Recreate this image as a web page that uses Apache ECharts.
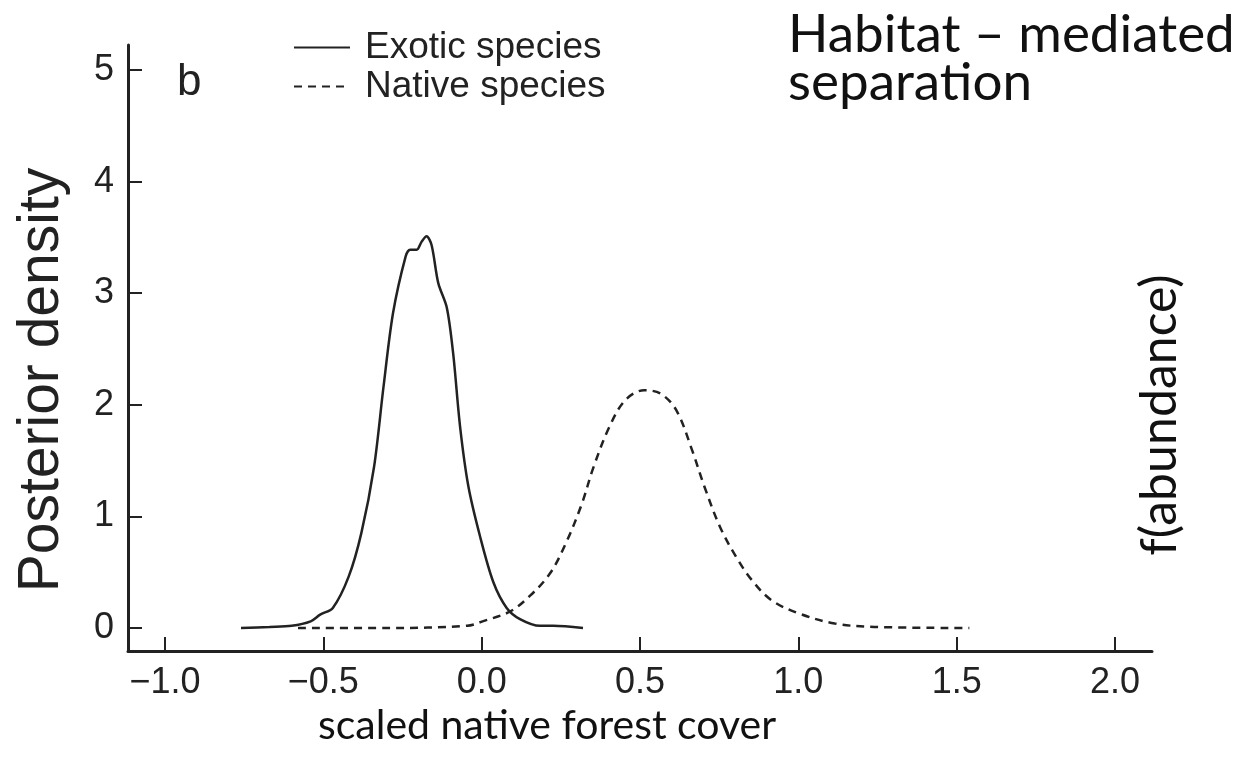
<!DOCTYPE html>
<html lang="en">
<head>
  <meta charset="UTF-8">
  <title>Posterior density - native forest cover</title>
  <script src="https://cdn.jsdelivr.net/npm/echarts@6/dist/echarts.min.js"></script>
  <style>
    html, body { margin: 0; padding: 0; background: #fff; }
  </style>
</head>
<body>
  <div id="main" style="width: 1242px;height:767px;"></div>
  <script type="text/javascript">
    // values
    var seriesNames = ['Exotic species', 'Native species'];
    var xTicks = [-1.0, -0.5, 0.0, 0.5, 1.0, 1.5, 2.0];
    var yTicks = [0, 1, 2, 3, 4, 5];

    var exoticX = [-0.76, -0.67, -0.6, -0.54, -0.51, -0.47, -0.42, -0.38, -0.34, -0.31, -0.28, -0.24, -0.226, -0.205, -0.19, -0.174, -0.158, -0.137, -0.11, -0.09, -0.068, -0.042, -0.005, 0.037, 0.079, 0.121, 0.184, 0.226, 0.32];
    var exoticY = [0.0, 0.01, 0.02, 0.06, 0.12, 0.18, 0.46, 0.85, 1.44, 2.16, 2.82, 3.33, 3.39, 3.39, 3.46, 3.51, 3.43, 3.09, 2.87, 2.46, 1.80, 1.27, 0.82, 0.41, 0.18, 0.08, 0.02, 0.02, 0.0];

    var nativeX = [-0.58, -0.3, -0.046, 0.003, 0.091, 0.153, 0.216, 0.266, 0.316, 0.353, 0.403, 0.453, 0.513, 0.565, 0.615, 0.665, 0.703, 0.752, 0.803, 0.853, 0.915, 1.002, 1.115, 1.24, 1.54];
    var nativeY = [0.0, 0.0, 0.02, 0.06, 0.15, 0.29, 0.49, 0.76, 1.11, 1.44, 1.80, 2.04, 2.13, 2.10, 1.95, 1.59, 1.27, 0.91, 0.64, 0.43, 0.25, 0.13, 0.04, 0.01, 0.0];

    function pairs(xs, ys) {
      return xs.map(function (x, i) { return [x, ys[i]]; });
    }

    var axisFont = 'Liberation Sans, Arial, sans-serif';
    var slideFont = 'Lato, "Open Sans", sans-serif';
    var ink = '#222';

    var myChart = echarts.init(document.getElementById('main'));

    var option = {
      backgroundColor: '#fff',
      animation: false,
      grid: { left: 128, right: 90, top: 45, bottom: 116 },
      title: [
        { text: 'b', left: 172, top: 56, textStyle: { fontFamily: axisFont, fontSize: 44, fontWeight: 'normal', color: ink } },
        { text: 'Habitat – mediated\nseparation', left: 783, top: 6, textStyle: { fontFamily: slideFont, fontSize: 53, lineHeight: 48, fontWeight: 'normal', color: '#111' } },
        { text: 'scaled native forest cover', left: 313, top: 700, textStyle: { fontFamily: slideFont, fontSize: 41, fontWeight: 'normal', color: '#111' } }
      ],
      graphic: [
        {
          type: 'text', x: 1160, y: 415, rotation: Math.PI / 2,
          style: { text: 'f(abundance)', font: '50px ' + slideFont, fill: '#111', align: 'center', verticalAlign: 'middle' }
        },
        {
          type: 'text', x: 42, y: 380, rotation: Math.PI / 2,
          style: { text: 'Posterior density', font: '57px ' + axisFont, fill: ink, align: 'center', verticalAlign: 'middle' }
        }
      ],
      legend: {
        orient: 'vertical', left: 288, top: 24, itemWidth: 56, itemHeight: 14, itemGap: 2,
        data: seriesNames,
        itemStyle: { opacity: 0 },
        textStyle: { fontFamily: axisFont, fontSize: 37, color: ink, padding: [0, 0, 0, 10] }
      },
      xAxis: {
        type: 'value', min: -1.1168, max: 2.1168,
        splitLine: { show: false },
        axisLine: { onZero: false, lineStyle: { color: ink, width: 3 } },
        axisTick: { inside: true, length: 14, lineStyle: { color: ink, width: 2 }, customValues: xTicks },
        axisLabel: {
          customValues: xTicks, margin: 14, fontFamily: axisFont, fontSize: 36, color: ink,
          formatter: function (v) { return (v < 0 ? '\u2212' : '') + Math.abs(v).toFixed(1); }
        }
      },
      yAxis: {
        type: 'value', min: -0.206, max: 5.224,
        splitLine: { show: false },
        axisLine: { onZero: false, lineStyle: { color: ink, width: 3 } },
        axisTick: { inside: true, length: 14, lineStyle: { color: ink, width: 2 }, customValues: yTicks },
        axisLabel: { customValues: yTicks, margin: 14, fontFamily: axisFont, fontSize: 36, color: ink }
      },
      series: [
        {
          name: seriesNames[0], type: 'line', symbol: 'none', smooth: 0.3,
          data: pairs(exoticX, exoticY),
          lineStyle: { color: ink, width: 2.5, type: 'solid' },
          itemStyle: { color: ink }
        },
        {
          name: seriesNames[1], type: 'line', symbol: 'none', smooth: 0.35,
          data: pairs(nativeX, nativeY),
          lineStyle: { color: ink, width: 2.5, type: [8, 6] },
          itemStyle: { color: ink }
        }
      ]
    };

    myChart.setOption(option);
  </script>
</body>
</html>
